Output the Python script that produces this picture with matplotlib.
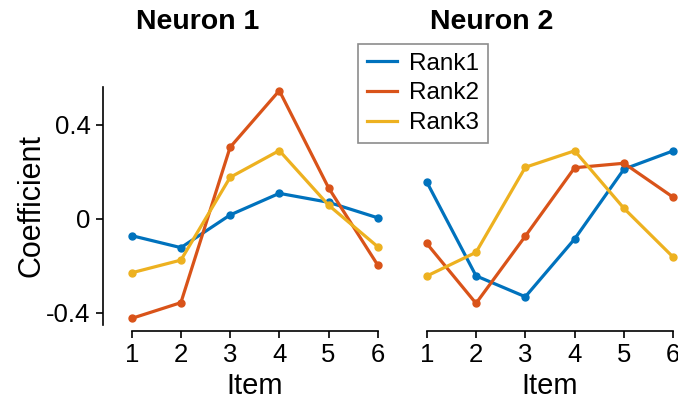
import matplotlib
matplotlib.use("Agg")
import matplotlib.pyplot as plt

plt.rcParams['font.family'] = ['Liberation Sans', 'DejaVu Sans']

items = [1, 2, 3, 4, 5, 6]
ranks = ['Rank1', 'Rank2', 'Rank3']
colors = ['#0072BD', '#D95319', '#EDB120']

# neuron 1
n1_rank1 = [-0.072, -0.123, 0.016, 0.108, 0.070, 0.004]
n1_rank2 = [-0.424, -0.357, 0.304, 0.545, 0.132, -0.197]
n1_rank3 = [-0.230, -0.176, 0.176, 0.290, 0.058, -0.119]

# neuron 2
n2_rank1 = [0.157, -0.243, -0.332, -0.086, 0.211, 0.289]
n2_rank2 = [-0.105, -0.360, -0.074, 0.217, 0.236, 0.091]
n2_rank3 = [-0.244, -0.143, 0.219, 0.289, 0.044, -0.164]

yticks = [-0.4, 0, 0.4]
ytick_labels = ['-0.4', '0', '0.4']

W, H = 678, 400
fig = plt.figure(figsize=(W / 100, H / 100), dpi=100)

ax1 = fig.add_axes([131.7 / W, 1 - 324.5 / H, 246 / W, 237.4 / H])
ax2 = fig.add_axes([426.7 / W, 1 - 324.5 / H, 246.6 / W, 237.4 / H])

for ax, series in [(ax1, [n1_rank1, n1_rank2, n1_rank3]),
                   (ax2, [n2_rank1, n2_rank2, n2_rank3])]:
    for vals, c, lab in zip(series, colors, ranks):
        ax.plot(items, vals, color=c, lw=2.3, marker='o', ms=5,
                label=lab, clip_on=False)
    ax.set_xlim(1, 6)
    ax.set_ylim(-0.45, 0.56)
    ax.set_xticks(items)
    ax.tick_params(axis='x', labelsize=18.5, direction='out', length=5,
                   width=1.2, pad=3)
    ax.spines['top'].set_visible(False)
    ax.spines['right'].set_visible(False)
    ax.spines['bottom'].set_position(('outward', 5))
    ax.spines['bottom'].set_linewidth(1.2)
    ax.set_xlabel('Item', fontsize=21, labelpad=4)

ax1.spines['left'].set_position(('outward', 21))
ax1.spines['left'].set_linewidth(1.2)
ax1.set_yticks(yticks)
ax1.set_yticklabels(ytick_labels)
ax1.tick_params(axis='y', labelsize=18.5, direction='out', length=5, width=1.2)
ax1.set_ylabel('Coefficient', fontsize=22, labelpad=0)

ax2.spines['left'].set_visible(False)
ax2.set_yticks([])

fig.text(197.5 / W, 1 - 22 / H, 'Neuron 1', fontsize=20.5, fontweight='bold',
         ha='center', va='center')
fig.text(491.7 / W, 1 - 22 / H, 'Neuron 2', fontsize=20.5, fontweight='bold',
         ha='center', va='center')

leg = fig.legend([plt.Line2D([], [], color=c, lw=2.3) for c in colors], ranks,
                 loc='upper left', bbox_to_anchor=(358 / W, 1 - 44 / H),
                 fontsize=17.5, frameon=True, fancybox=False, handlelength=1.25,
                 handletextpad=0.5, borderpad=0.35, labelspacing=0.32,
                 borderaxespad=0)
leg.get_frame().set_edgecolor('#707070')
leg.get_frame().set_linewidth(1.2)

fig.savefig('out.png', dpi=100)
